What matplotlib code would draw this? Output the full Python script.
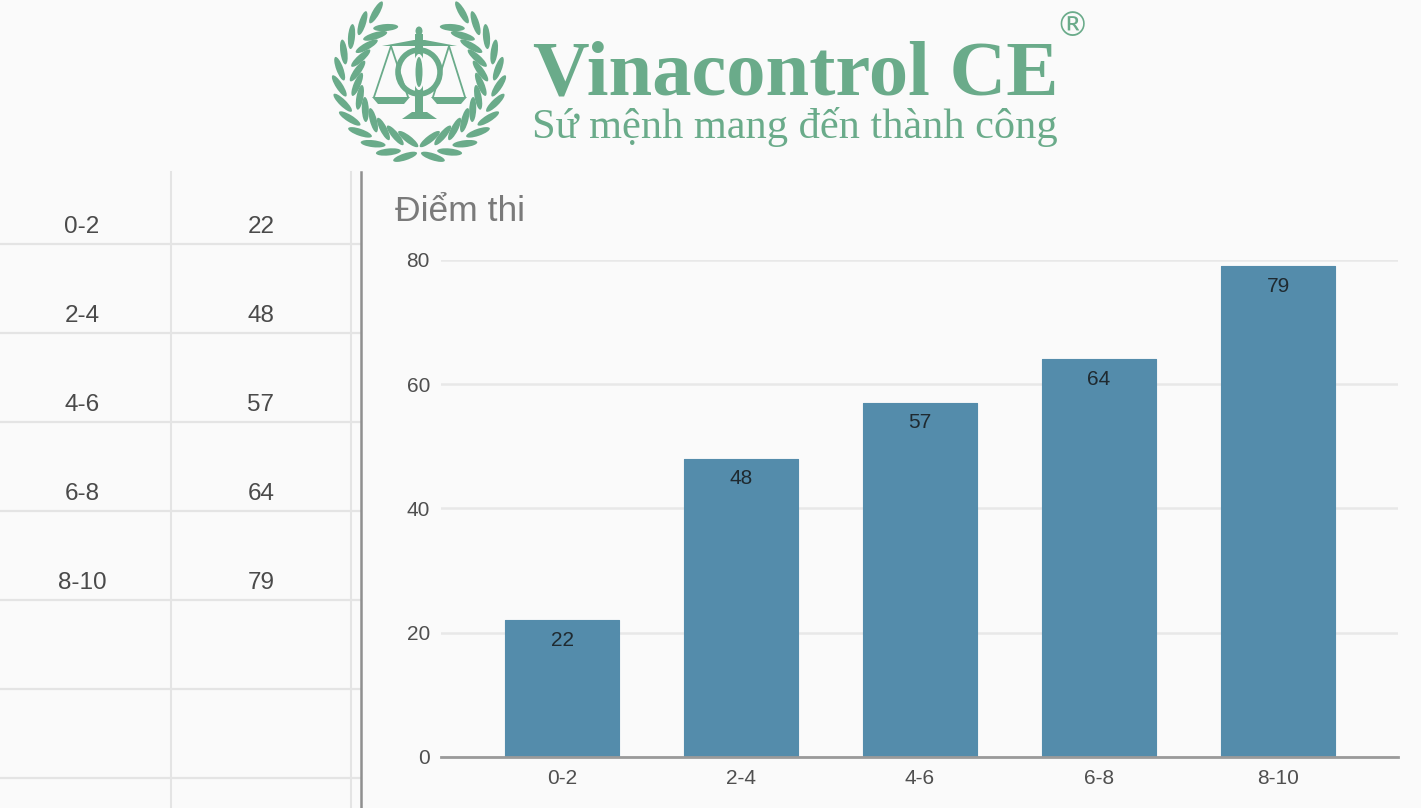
import numpy as np
import matplotlib
matplotlib.use('Agg')
import matplotlib.pyplot as plt
from matplotlib.patches import Ellipse, Polygon, Rectangle

# ------------------ Data ------------------
categories = ['0-2', '2-4', '4-6', '6-8', '8-10']
scores = [22, 48, 57, 64, 79]
y_ticks = [0, 20, 40, 60, 80]
chart_title = 'Điểm thi'
brand_name = 'Vinacontrol CE'
brand_slogan = 'Sứ mệnh mang đến thành công'

BG = '#fafafa'
GREEN = '#6aab8a'
BAR = '#548cab'
GRID = '#e8e8e8'
AXIS = '#9a9a9a'

plt.rcParams['font.family'] = ['Liberation Sans', 'DejaVu Sans']

fig = plt.figure(figsize=(14.21, 8.08), dpi=100, facecolor=BG)

# overlay in pixel coordinates for the table and logo
bg = fig.add_axes([0, 0, 1, 1])
bg.set_xlim(0, 1421)
bg.set_ylim(808, 0)
bg.axis('off')

# ------------------ Table on the left ------------------
for y in [244, 333, 422, 511, 600, 689, 778]:
    bg.plot([0, 360], [y, y], color='#e4e4e4', lw=1.6)
bg.plot([170.5, 170.5], [172, 808], color='#e4e4e4', lw=1.5)
bg.plot([350.5, 350.5], [172, 808], color='#e4e4e4', lw=1.5)
bg.plot([361, 361], [172, 808], color='#8f8f8f', lw=1.8)

row_y = 227
for cat, val in zip(categories, scores):
    bg.text(82, row_y, cat, ha='center', va='center', fontsize=17.5, color='#4a4a4a')
    bg.text(261, row_y, str(val), ha='center', va='center', fontsize=17.5, color='#4a4a4a')
    row_y += 89

# ------------------ Logo ------------------
cx, cy = 419, 79
rx, ry = 71, 70
for side in [-1, 1]:
    for deg in np.arange(-80, 68, 12.5):
        t = np.radians(deg)
        tangent = np.degrees(np.arctan2(ry * np.cos(t), side * rx * np.sin(t)))
        for off, rot in [(9, 28), (-9, -28)]:
            ox = cx + side * (rx + off) * np.cos(t)
            oy = cy - (ry + off) * np.sin(t)
            bg.add_patch(Ellipse((ox, oy), 25, 7, angle=tangent + side * rot,
                                 color=GREEN, lw=0))

# scales
bg.add_patch(Polygon([[382, 46], [457, 46], [425, 40], [414, 40]], color=GREEN, lw=0))
bg.add_patch(Ellipse((419, 31), 7, 9, color=GREEN, lw=0))
bg.add_patch(Rectangle((415, 34), 8, 80, color=GREEN, lw=0))
bg.add_patch(Ellipse((419, 72), 42, 44, fill=False, ec=GREEN, lw=4))
bg.add_patch(Ellipse((419, 72), 12, 36, color=BG, lw=0, zorder=3))
bg.add_patch(Ellipse((419, 72), 7, 30, color=GREEN, lw=0, zorder=4))
bg.add_patch(Polygon([[372, 97], [410, 97], [404, 104], [378, 104]], color=GREEN, lw=0))
bg.add_patch(Polygon([[431, 97], [467, 97], [461, 104], [437, 104]], color=GREEN, lw=0))
bg.add_patch(Polygon([[402, 119], [437, 119], [427, 112], [412, 112]], color=GREEN, lw=0))
for x0, x1 in [(374, 391), (408, 391), (433, 449), (465, 449)]:
    bg.plot([x0, x1], [97, 46], color=GREEN, lw=1.3)

bg.text(533, 95, brand_name, fontsize=56.5, fontweight='bold', family='Liberation Serif',
        color=GREEN, ha='left', va='baseline')
bg.text(532, 138, brand_slogan, fontsize=30.5, family='Liberation Serif',
        color=GREEN, ha='left', va='baseline')
bg.text(1072, 26, '®', fontsize=24, family='DejaVu Sans', color=GREEN, ha='center', va='center')

# ------------------ Bar chart ------------------
ax = fig.add_axes([441 / 1421, 1 - 757 / 808, (1398 - 441) / 1421, (757 - 260) / 808])
ax.patch.set_alpha(0)
ax.bar(categories, scores, width=0.637, color=BAR, edgecolor=BAR, lw=0.8, joinstyle='round', zorder=3)
ax.set_xlim(-0.676, 4.67)
ax.set_ylim(0, 80)
ax.set_yticks(y_ticks)
ax.grid(axis='y', color=GRID, lw=1.8, zorder=0)
ax.set_axisbelow(True)
for name in ['top', 'left', 'right']:
    ax.spines[name].set_visible(False)
ax.spines['bottom'].set_color(AXIS)
ax.spines['bottom'].set_linewidth(2)
ax.spines['bottom'].set_zorder(4)
ax.tick_params(axis='both', length=0, labelsize=15, labelcolor='#4f4f4f')
ax.tick_params(axis='x', pad=9)
ax.tick_params(axis='y', pad=8)

for i, val in enumerate(scores):
    ax.annotate(str(val), (i, val), xytext=(0, -7.5), textcoords='offset points',
                ha='center', va='top', fontsize=15, color='#1f2a30', zorder=5)

fig.text(395 / 1421, 1 - 221 / 808, chart_title, fontsize=25.5, color='#7a7a7a', ha='left', va='baseline')

fig.savefig('out.png', dpi=100, facecolor=BG)
